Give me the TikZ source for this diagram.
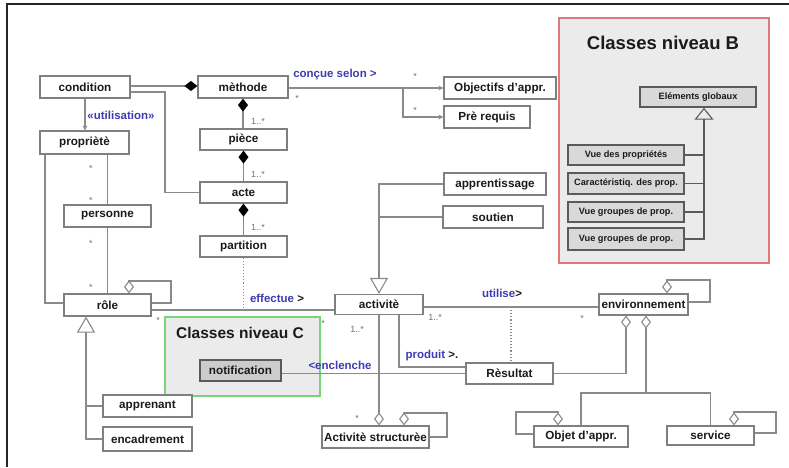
\documentclass[tikz,border=0pt]{standalone}
\usepackage{fontspec}
\setmainfont{Liberation Sans}
\usetikzlibrary{arrows.meta,calc}
\definecolor{boxline}{HTML}{7F7F7F}
\definecolor{connline}{HTML}{8A8A8A}
\definecolor{txt}{HTML}{1A1A1A}
\definecolor{lblue}{HTML}{3C3CB4}
\definecolor{multc}{HTML}{707070}
\definecolor{panel}{HTML}{EBEBEB}
\definecolor{bred}{HTML}{E07A7A}
\definecolor{cgreen}{HTML}{77D477}
\definecolor{bline}{HTML}{5A5A5A}
\definecolor{bfill}{HTML}{D9D9D9}
\definecolor{nfill}{HTML}{CCCCCC}
\begin{document}
\begin{tikzpicture}[x=1pt,y=-1pt,
  box/.style={draw=boxline, line width=1.2pt, fill=white, inner sep=0pt, text=txt,
    font=\bfseries\fontsize{11.7}{13}\selectfont},
  bbox/.style={draw=bline, line width=1.4pt, fill=bfill, inner sep=0pt, text=txt,
    minimum width=116pt, font=\bfseries\fontsize{9.2}{11}\selectfont},
  conn/.style={draw=connline, line width=1.1pt},
  bconn/.style={draw=bline, line width=1.1pt},
  lbl/.style={inner sep=0pt, text=lblue, font=\bfseries\fontsize{11.5}{13}\selectfont},
  mult/.style={inner sep=0pt, text=multc, font=\fontsize{9}{10}\selectfont},
  ptitle/.style={inner sep=0pt, text=txt, font=\bfseries\fontsize{18.5}{20}\selectfont},
]
\useasboundingbox (0,0) rectangle (789,467);

% outer frame (top and left edges)
\draw[line width=1.5pt, black!85] (6,4) -- (789,4);
\draw[line width=1.5pt, black!85] (7,4) -- (7,467);

% level panels
\node[draw=bred, fill=panel, line width=1.5pt, inner sep=0pt,
      minimum width=210pt, minimum height=245pt] (panelB) at (664,140.5) {};
\node[ptitle] (titleB) at (663,43) {Classes niveau B};
\node[draw=cgreen, fill=panel, line width=1.3pt, inner sep=0pt,
      minimum width=155pt, minimum height=79pt] (panelC) at (242.5,356.5) {};
\node[ptitle, font=\bfseries\fontsize{15.5}{18}\selectfont] (titleC) at (240,333) {Classes niveau C};

% classes
\node[box, minimum width=90pt, minimum height=22pt] (condition) at (85,87) {condition};
\node[box, minimum width=90pt, minimum height=22pt] (methode) at (243,87) {mèthode};
\node[box, minimum width=112pt, minimum height=22pt] (objectifs) at (500,88) {Objectifs d'appr.};
\node[box, minimum width=86pt, minimum height=22pt] (prerequis) at (487,117) {Prè requis};
\node[box, minimum width=87pt, minimum height=21pt] (piece) at (243.5,139.5) {pièce};
\node[box, minimum width=87pt, minimum height=21pt] (acte) at (243.5,192.5) {acte};
\node[box, minimum width=87pt, minimum height=21pt] (partition) at (243.5,246.5) {partition};
\node[box, minimum width=89pt, minimum height=23pt] (propriete) at (84.5,142.5) {propriètè};
\node[box, minimum width=87pt, minimum height=22pt] (personne) at (107.5,216) {personne};
\node[box, minimum width=87pt, minimum height=22pt] (role) at (107.5,305) {rôle};
\node[box, minimum width=89pt, minimum height=22pt] (apprenant) at (147.5,406) {apprenant};
\node[box, minimum width=89pt, minimum height=24pt] (encadrement) at (147.5,439) {encadrement};
\node[box, minimum width=88pt, minimum height=20pt] (activite) at (379,304.5) {activitè};
\node[box, minimum width=102pt, minimum height=22pt] (apprentissage) at (495,184) {apprentissage};
\node[box, minimum width=100pt, minimum height=22pt] (soutien) at (493,217) {soutien};
\node[box, minimum width=89pt, minimum height=21pt] (environnement) at (643.5,304.5) {environnement};
\node[box, minimum width=87pt, minimum height=21pt] (resultat) at (509.5,373.5) {Rèsultat};
\node[box, minimum width=107pt, minimum height=22pt] (actstruct) at (375.5,437) {Activitè structurèe};
\node[box, minimum width=94pt, minimum height=21pt] (objet) at (581,436.5) {Objet d'appr.};
\node[box, minimum width=87pt, minimum height=19pt] (service) at (710.5,435.5) {service};
\node[box, draw=bline, fill=nfill, line width=1.5pt, minimum width=81pt, minimum height=21pt]
     (notification) at (240.5,370.5) {notification};

% level B classes
\node[bbox, minimum height=20pt] (elements) at (698,97) {Eléments globaux};
\node[bbox, minimum height=20pt] (vue1) at (626,155) {Vue des propriétés};
\node[bbox, minimum height=21pt] (vue2) at (626,183.5) {Caractéristiq. des prop.};
\node[bbox, minimum height=20pt] (vue3) at (626,212) {Vue groupes de prop.};
\node[bbox, minimum height=22pt] (vue4) at (626,239) {Vue groupes de prop.};

% compositions
\draw[conn, {Diamond[length=13pt,width=10pt,color=black]}-]
  ([yshift=1pt]methode.west) -- ([yshift=1pt]methode.west -| condition.east);
\draw[conn, {Diamond[length=13pt,width=10pt,color=black]}-]
  (methode.south) -- (methode.south |- piece.north);
\draw[conn, {Diamond[length=13pt,width=10pt,color=black]}-]
  (piece.south) -- (piece.south |- acte.north);
\draw[conn, {Diamond[length=13pt,width=10pt,color=black]}-]
  (acte.south) -- (acte.south |- partition.north);

% condition links
\draw[conn] ([yshift=-5pt]condition.east) -- (165,92) |- (acte.west);
\draw[conn, -{Stealth[length=5pt,width=5pt]}]
  (condition.south) -- (condition.south |- propriete.north);

% methode navigations
\draw[conn, -{Stealth[length=5pt,width=5pt]}] ([yshift=-1pt]methode.east) -- (objectifs.west);
\coordinate (br) at (403,88);
\draw[conn, -{Stealth[length=5pt,width=5pt]}] (br) |- (prerequis.west);

% propriete, personne, role
\draw[conn] ([xshift=-39.5pt]propriete.south) |- ([yshift=2pt]role.west);
\draw[conn] (personne.north |- propriete.south) -- (personne.north);
\draw[conn] (personne.south) -- (personne.south |- role.north);
\draw[conn, {Diamond[open,length=13pt,width=10pt]}-]
  ([xshift=21.5pt]role.north) -- (129,281) -- (171,281) |- ([yshift=2pt]role.east);

% role -- activite and association class link
\draw[conn] ([yshift=-5pt]role.east) -- ([yshift=-5pt]role.east -| activite.west);
\draw[conn, dotted, line width=1.2pt] (partition.south) -- ++(0,53);

% generalisations
\draw[conn, -{Triangle[open,length=16pt,width=18pt]}] (apprentissage.west) -| (activite.north);
\draw[conn] (soutien.west) -- (soutien.west -| activite.north);
\draw[conn, -{Triangle[open,length=16pt,width=18pt]}] (encadrement.west) -| ([xshift=-21.5pt]role.south);
\draw[conn] (apprenant.west) -- ++(-17,0);

% activite -- environnement
\draw[conn] ([yshift=-2.5pt]activite.east) -- ([yshift=-2.5pt]activite.east -| environnement.west);
\coordinate (uti) at (511,307);
\draw[conn, dotted, line width=1.2pt] (uti) -- (uti |- resultat.north);

% produit / enclenche
\draw[conn] ([xshift=20pt]activite.south) |- ([yshift=6.5pt]resultat.west);
\draw[conn] (resultat.west) -- (resultat.west -| notification.east);

% aggregations
\draw[conn, -{Diamond[open,length=13pt,width=10pt]}] (activite.south) -- (activite.south |- actstruct.north);
\draw[conn, {Diamond[open,length=13pt,width=10pt]}-]
  ([xshift=28.5pt]actstruct.north) -- (404,413) -- (447,413) |- (actstruct.east);
\draw[conn, {Diamond[open,length=13pt,width=10pt]}-]
  ([xshift=23.5pt]environnement.north) -- (667,280) -- (710,280) |- ([yshift=2.5pt]environnement.east);
\draw[conn, -{Diamond[open,length=13pt,width=10pt]}] (resultat.east) -| ([xshift=-17.5pt]environnement.south);
\coordinate (junc) at (646,393);
\draw[conn, {Diamond[open,length=13pt,width=10pt]}-] ([xshift=2.5pt]environnement.south) -- (junc);
\draw[conn] (objet.north) |- (junc) -| (service.north);
\draw[conn, {Diamond[open,length=13pt,width=10pt]}-]
  ([xshift=-23pt]objet.north) -- (558,412) -- (516,412) |- ([yshift=2.5pt]objet.west);
\draw[conn, {Diamond[open,length=13pt,width=10pt]}-]
  ([xshift=23.5pt]service.north) -- (734,412) -- (776,412) |- ([yshift=2.5pt]service.east);

% level B generalisation
\coordinate (bx) at (704,0);
\draw[bconn, -{Triangle[open,length=12pt,width=19pt]}] (vue4.east) -| ([xshift=6pt]elements.south);
\foreach \n in {vue1,vue2,vue3} \draw[bconn] (\n.east) -- (\n.east -| bx);

% association labels
\node[lbl] (lconcue) at (335,75) {conçue selon >};
\node[lbl] (lutil) at (121,115) {«utilisation»};
\node[lbl] (leff) at (277,298) {effectue \textcolor{txt}{>}};
\node[lbl] (luse) at (502,293) {utilise\textcolor{txt}{>}};
\node[lbl] (lprod) at (432,356) {produit \textcolor{txt}{>.}};
\node[lbl] (lencl) at (340,365) {<enclenche};

% multiplicities
\node[mult] (s1) at (297,98) {*};
\node[mult] (s2) at (415,76) {*};
\node[mult] (s3) at (415,110) {*};
\node[mult] (s4) at (91,168) {*};
\node[mult] (s5) at (91,200) {*};
\node[mult] (s6) at (91,243) {*};
\node[mult] (s7) at (91,287) {*};
\node[mult] (s8) at (158,320) {*};
\node[mult] (s9) at (323,323) {*};
\node[mult] (s10) at (582,318) {*};
\node[mult] (s11) at (357,418) {*};
\node[mult] (m1) at (258,121) {1..*};
\node[mult] (m2) at (258,174) {1..*};
\node[mult] (m3) at (258,227) {1..*};
\node[mult] (m4) at (357,329) {1..*};
\node[mult] (m5) at (435,317) {1..*};
\end{tikzpicture}
\end{document}
